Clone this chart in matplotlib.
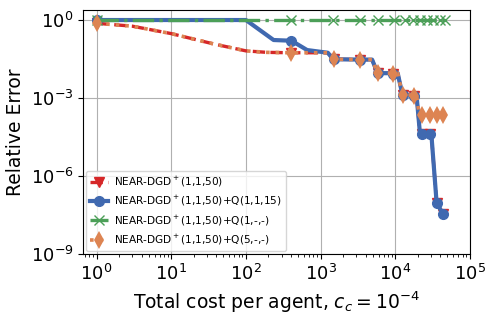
import matplotlib
matplotlib.use("Agg")
import matplotlib.pyplot as plt
from matplotlib.lines import Line2D
from matplotlib.ticker import NullLocator

# curve vertices
red_x = [1, 3, 10, 37, 100, 190, 400, 1250, 1480, 3400, 4900, 5800, 9400, 10800,
         12500, 18000, 19300, 21500, 30500, 35900, 44000]
red_y = [0.75, 0.58, 0.30, 0.12, 0.065, 0.057, 0.055, 0.055, 0.031, 0.030, 0.030,
         0.009, 0.009, 0.009, 0.0013, 0.0013, 0.0013, 4e-5, 4e-5, 9e-8, 3.4e-8]
red_mx = [1, 400, 1500, 3400, 5850, 9400, 12800, 18000, 23000, 29500, 35900, 44000]
red_my = [0.75, 0.055, 0.031, 0.029, 0.009, 0.0087, 0.0013, 0.0012, 4e-5, 4e-5, 9e-8, 3.4e-8]

blue_x = [1, 100, 235, 400, 430, 660, 1250, 1480, 3400, 4900, 5800, 9400, 10800,
          12500, 18000, 19300, 21500, 30500, 35900, 44000]
blue_y = [1.0, 1.0, 0.17, 0.16, 0.146, 0.07, 0.055, 0.031, 0.030, 0.030, 0.009, 0.009,
          0.009, 0.0013, 0.0013, 0.0013, 4e-5, 4e-5, 9e-8, 3.4e-8]
blue_mx = red_mx
blue_my = [1.0, 0.16, 0.031, 0.029, 0.009, 0.0087, 0.0013, 0.0012, 4e-5, 4e-5, 9e-8, 3.4e-8]

green_x = [1, 46000]
green_y = [1.0, 1.0]
green_mx = [1, 400, 1480, 3400, 5900, 9600, 13500, 17300, 21400, 26600, 32000, 39700, 46000]
green_my = [1.0] * len(green_mx)

orange_x = [1, 3, 10, 37, 100, 190, 400, 1250, 1480, 3400, 4900, 5800, 9400, 10800,
            12500, 18000, 19300, 21000, 44000]
orange_y = [0.75, 0.58, 0.30, 0.12, 0.065, 0.057, 0.055, 0.055, 0.031, 0.030, 0.030,
            0.009, 0.009, 0.009, 0.0013, 0.0013, 0.0013, 2.2e-4, 2.2e-4]
orange_mx = red_mx
orange_my = [0.75, 0.055, 0.031, 0.029, 0.009, 0.0087, 0.0013, 0.0012,
             2.2e-4, 2.2e-4, 2.2e-4, 2.2e-4]

labels = [r"NEAR-DGD$^+$(1,1,50)",
          r"NEAR-DGD$^+$(1,1,50)+Q(1,1,15)",
          r"NEAR-DGD$^+$(1,1,50)+Q(1,-,-)",
          r"NEAR-DGD$^+$(1,1,50)+Q(5,-,-)"]

c_red = "#d62728"
c_blue = "#4069b0"
c_green = "#4c9f58"
c_orange = "#dd8452"

fig = plt.figure(figsize=(4.92, 3.17), dpi=100)
ax = fig.add_axes([0.169, 0.199, 0.786, 0.769])

ax.plot(red_x, red_y, "--", color=c_red, lw=2.4)
ax.plot(red_mx, red_my, "v", color=c_red, ms=7, ls="none")
ax.plot(blue_x, blue_y, "-", color=c_blue, lw=3)
ax.plot(blue_mx, blue_my, "o", color=c_blue, ms=7, ls="none")
ax.plot(green_x, green_y, "-.", color=c_green, lw=2.4)
ax.plot(green_mx, green_my, "x", color=c_green, ms=7, mew=1, ls="none")
ax.plot(orange_x, orange_y, ":", color=c_orange, lw=2.6)
ax.plot(orange_mx, orange_my, "d", color=c_orange, ms=9, mew=0, ls="none")

ax.set_xscale("log")
ax.set_yscale("log")
ax.set_xlim(0.66, 1e5)
ax.set_ylim(1e-9, 2.4)
ax.set_yticks([1e-9, 1e-6, 1e-3, 1])
ax.yaxis.set_minor_locator(NullLocator())
ax.grid(True, which="major", color="#b0b0b0", lw=0.8)
ax.tick_params(axis="both", which="major", labelsize=13)

ax.set_xlabel(r"Total cost per agent, $c_c = 10^{-4}$", fontsize=13.5)
ax.set_ylabel("Relative Error", fontsize=13.5)

handles = [
    Line2D([], [], color=c_red, ls="--", lw=2.4, marker="v", ms=7),
    Line2D([], [], color=c_blue, ls="-", lw=3, marker="o", ms=7),
    Line2D([], [], color=c_green, ls="-.", lw=2.4, marker="x", ms=7, mew=1),
    Line2D([], [], color=c_orange, ls=":", lw=2.6, marker="d", ms=9, mew=0),
]
ax.legend(handles, labels, loc="lower left", fontsize=7.6, handlelength=1.7,
          labelspacing=0.5, borderaxespad=0.25, handletextpad=0.6)

fig.savefig("out.png", dpi=100)
